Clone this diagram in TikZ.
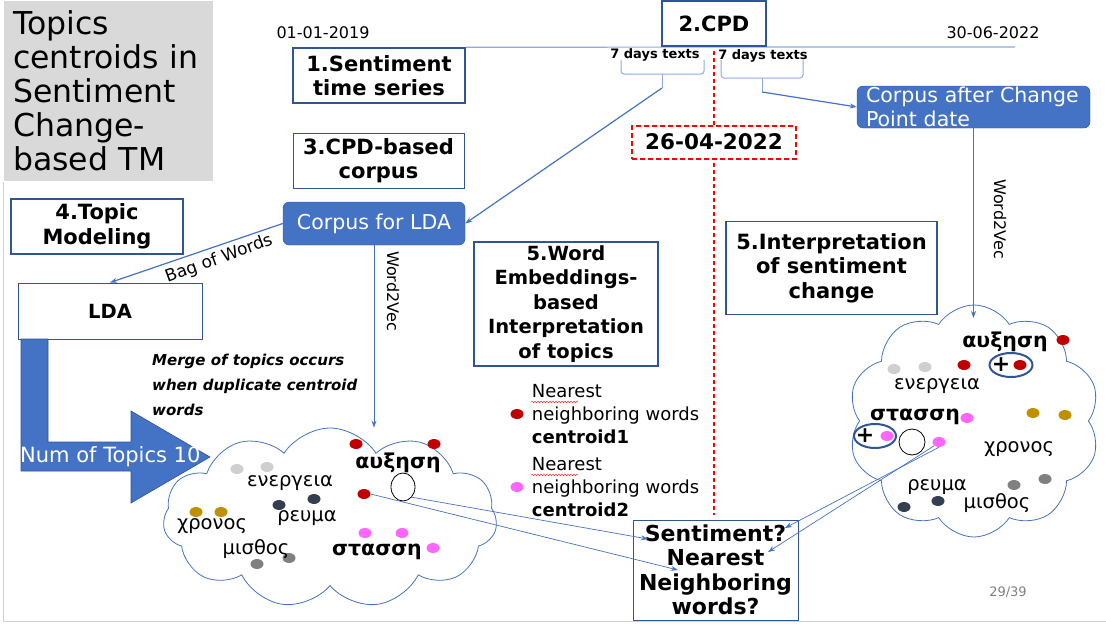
\documentclass[tikz,border=0pt]{standalone}
\usepackage{fontspec}
\setmainfont{DejaVu Sans}
\usetikzlibrary{positioning, arrows.meta, shapes.symbols, shapes.geometric, decorations.pathmorphing}

\definecolor{boxblue}{HTML}{2F5597}
\definecolor{fillblue}{HTML}{4472C4}
\definecolor{paleblue}{HTML}{8FAADC}
\definecolor{titlegray}{HTML}{D9D9D9}
\definecolor{dotred}{HTML}{C00000}
\definecolor{dotpink}{HTML}{FF66FF}
\definecolor{dotgold}{HTML}{BF9000}
\definecolor{dotnavy}{HTML}{333F50}
\definecolor{dotlight}{HTML}{D0CECE}
\definecolor{dotgray}{HTML}{808080}

\begin{document}
\begin{tikzpicture}[
    x=1pt, y=-1pt,
    stagebox/.style={draw=boxblue, line width=1.6pt, fill=white, align=center, inner sep=0pt, font=\bfseries\fontsize{21}{24.5}\selectfont},
    thinbox/.style={stagebox, line width=0.9pt},
    bluebox/.style={draw=boxblue, fill=fillblue, rounded corners=6pt, text=white, inner sep=0pt, font=\fontsize{20.5}{24}\selectfont},
    link/.style={draw=fillblue, line width=1.2pt, -{Stealth[length=7pt, width=5pt]}},
    thinlink/.style={link, line width=0.7pt},
    bracket/.style={draw=paleblue, line width=1pt, rounded corners=3pt},
    bubble/.style={cloud, draw=fillblue, line width=0.8pt, cloud ignores aspect, cloud puff arc=115, inner sep=0pt},
    word/.style={inner sep=0pt, font=\fontsize{19.5}{20}\selectfont},
    bword/.style={inner sep=0pt, font=\bfseries\fontsize{20.5}{20}\selectfont},
    dot/.style={ellipse, inner sep=0pt, minimum width=13pt, minimum height=10pt},
    lab/.style={inner sep=0pt, font=\fontsize{16}{18}\selectfont},
    days/.style={inner sep=0pt, font=\bfseries\fontsize{13}{14}\selectfont},
    legend/.style={inner sep=0pt, align=left, font=\fontsize{18}{23}\selectfont},
    spell/.style={draw=red!80, line width=0.5pt, decorate, decoration={snake, amplitude=0.8pt, segment length=3pt}}
]
\useasboundingbox (0,0) rectangle (1106,624);

% --- slide frame ---
\draw[gray!35, line width=1pt] (3,182) -- (3,621) -- (1106,621);

% --- title ---
\node[fill=titlegray, anchor=north west, minimum width=209pt, minimum height=180pt, inner xsep=9pt, inner ysep=0pt,
      text width=191pt, align=left, font=\fontsize{31.5}{34}\selectfont] (title) at (4,1)
      {Topics\\centroids in\\Sentiment\\Change-\\based TM};

% --- time line ---
\node[lab] (start) at (323,33) {01-01-2019};
\node[lab] (stop)  at (993,33) {30-06-2022};
\coordinate (tlEnd) at (1015,47);

\node[stagebox, minimum width=172pt, minimum height=55pt] (sts) at (379,75.5) {1.Sentiment\\time series};
\draw[paleblue, line width=1.2pt] (sts.north east) -- (tlEnd);
\node[stagebox, minimum width=104pt, minimum height=45pt] (cpd) at (714,23.5) {2.CPD};
\node[thinbox, minimum width=171pt, minimum height=55pt] (cpdcorpus) at (378.5,160.5) {3.CPD-based\\corpus};

% 7 days windows round the change point
\node[days] (daysL) at (655,55) {7 days texts};
\node[days] (daysR) at (763,56) {7 days texts};
\draw[bracket] (621,60) -- (621,74) -- (704,74) -- (704,60);
\draw[bracket] (662,74) -- (662,88);
\draw[bracket] (721,60) -- (721,78) -- (803,78) -- (803,60);
\draw[bracket] (762,78) -- (762,92);
\coordinate (tipL) at (662,88);
\coordinate (tipR) at (762,92);

% --- change point ---
\node[thinbox, minimum width=165pt, minimum height=100pt, font=\bfseries\fontsize{22}{24.5}\selectfont] (sent) at (715.5,570)
      {Sentiment?\\Nearest\\Neighboring\\words?};
\draw[red, line width=1.5pt, dash pattern=on 4pt off 3pt, shorten <=4pt, shorten >=5pt] (cpd.south) -- (cpd.south |- sent.north);
\node[draw=red, line width=2pt, dash pattern=on 5pt off 3pt, fill=white, minimum width=164pt, minimum height=33pt, inner sep=0pt,
      font=\bfseries\fontsize{21.5}{24}\selectfont] (cpdate) at (714,142) {26-04-2022};

% --- corpora ---
\node[bluebox, minimum width=182pt, minimum height=43pt] (ldacorpus) at (374,223.5) {Corpus for LDA};
\node[bluebox, minimum width=233pt, minimum height=42pt, text width=215pt, align=left] (cpcorpus) at (973.5,107)
      {Corpus after Change\\Point date};
\draw[link] (tipL) -- (ldacorpus.east);
\draw[link] (tipR) -- (cpcorpus.west);

% --- topic modelling ---
\node[stagebox, minimum width=172pt, minimum height=55pt] (tm) at (97,226.5) {4.Topic\\Modeling};
\node[thinbox, minimum width=184pt, minimum height=56pt, font=\bfseries\fontsize{19.5}{24}\selectfont] (lda) at (110,311) {LDA};
\draw[link] (ldacorpus.west) -- (lda.north);
\node[lab, rotate=20, font=\fontsize{17}{18}\selectfont] (bow) at (219,259) {Bag of Words};

\node[stagebox, minimum width=184pt, minimum height=124pt, font=\bfseries\fontsize{19.5}{24.5}\selectfont] (wemb) at (566,304)
      {5.Word\\Embeddings-\\based\\Interpretation\\of topics};
\node[stagebox, minimum width=211pt, minimum height=93pt] (interp) at (831.5,268)
      {5.Interpretation\\of sentiment\\change};

\node[inner sep=0pt, align=left, font=\bfseries\itshape\fontsize{15}{25}\selectfont, anchor=west] (merge) at (152,385)
      {Merge of topics occurs\\when duplicate centroid\\words};

% --- clouds of words ---
\node[bubble, cloud puffs=11, minimum width=334pt, minimum height=180pt] (cloudL) at (330,518) {};
\node[bubble, cloud puffs=10, minimum width=252pt, minimum height=232pt] (cloudR) at (974,421) {};

\draw[thinlink] (ldacorpus.south) -- (ldacorpus.south |- cloudL.north);
\node[lab, rotate=-90] (w2vL) at (393,291) {Word2Vec};
\draw[thinlink] (cpcorpus.south) -- (973.5,318);
\node[lab, rotate=-90] (w2vR) at (1000,219) {Word2Vec};

% number of topics
\draw[draw=boxblue, fill=fillblue, line width=0.6pt] (21,339) -- (48,339) -- (48,442) -- (131,442) -- (131,411) -- (210,457)
      -- (131,503) -- (131,471) -- (21,471) -- cycle;
\node[inner sep=0pt, anchor=west, text=white, font=\fontsize{21}{22}\selectfont] (ntopics) at (20,457) {Num of Topics 10};

% left cloud
\foreach \x/\y in {356/444, 434/444} \node[dot, fill=dotred] at (\x,\y) {};
\node[dot, fill=dotred] (redL) at (364,494) {};
\foreach \x/\y in {237/469, 267/467} \node[dot, fill=dotlight] at (\x,\y) {};
\foreach \x/\y in {279/505, 314/499} \node[dot, fill=dotnavy] at (\x,\y) {};
\foreach \x/\y in {196/512, 221/512} \node[dot, fill=dotgold] at (\x,\y) {};
\foreach \x/\y in {257/564, 289/558} \node[dot, fill=dotgray] at (\x,\y) {};
\foreach \x/\y in {365/533, 402/533, 433/548} \node[dot, fill=dotpink] at (\x,\y) {};
\node[bword] at (398,463) {αυξηση};
\node[word] at (290,483) {ενεργεια};
\node[word] at (307,518) {ρευμα};
\node[word] at (212,526) {χρονος};
\node[word] at (256,549) {μισθος};
\node[bword] at (377,552) {στασση};
\node[ellipse, draw, line width=0.8pt, minimum width=24pt, minimum height=28pt, inner sep=0pt] (circL) at (403,487) {};

% right cloud
\foreach \x/\y in {1063/340, 964/365} \node[dot, fill=dotred] at (\x,\y) {};
\foreach \x/\y in {894/369, 925/367} \node[dot, fill=dotlight] at (\x,\y) {};
\foreach \x/\y in {1033/413, 1065/415} \node[dot, fill=dotgold] at (\x,\y) {};
\foreach \x/\y in {1014/485, 1045/479} \node[dot, fill=dotgray] at (\x,\y) {};
\foreach \x/\y in {904/507, 938/501} \node[dot, fill=dotnavy] at (\x,\y) {};
\node[dot, fill=dotpink] at (967,418) {};
\node[dot, fill=dotpink] (pinkR) at (939,442) {};
\node[bword] at (1005,342) {αυξηση};
\node[word] at (937,386) {ενεργεια};
\node[bword] at (915,417) {στασση};
\node[word] at (1019,449) {χρονος};
\node[word] at (937,487) {ρευμα};
\node[word] at (997,503) {μισθος};
\node[ellipse, draw=boxblue, line width=2pt, minimum width=43pt, minimum height=24pt, inner sep=0pt] (plusA) at (1011,365) {};
\node[inner sep=0pt, font=\bfseries\fontsize{22}{22}\selectfont] at (1001,365) {+};
\node[dot, fill=dotred] at (1020,365) {};
\node[ellipse, draw=boxblue, line width=2pt, minimum width=42pt, minimum height=24pt, inner sep=0pt] (plusB) at (875,436) {};
\node[inner sep=0pt, font=\bfseries\fontsize{22}{22}\selectfont] at (865,436) {+};
\node[dot, fill=dotpink] at (887,436) {};
\node[circle, draw, line width=0.8pt, minimum size=26pt, inner sep=0pt] (circR) at (912,442) {};

% --- legend ---
\node[dot, fill=dotred] (keyA) at (517,414) {};
\node[legend, right=8pt of keyA] (keyAtext) {Nearest\\neighboring words\\\textbf{centroid1}};
\node[dot, fill=dotpink] (keyB) at (517,487) {};
\node[legend, right=8pt of keyB] (keyBtext) {Nearest\\neighboring words\\\textbf{centroid2}};
\draw[spell] (531,402) -- (578,402);
\draw[spell] (531,475) -- (578,475);

% --- links to the question box ---
\coordinate (endA) at (648,539);
\coordinate (endB) at (678,570);
\coordinate (endC) at (785,528);
\coordinate (endD) at (768,552);
\draw[thinlink] (circL.south east) -- (endA);
\draw[thinlink] (redL.east) -- (endB);
\draw[thinlink] (pinkR.south) -- (endC);
\draw[thinlink] (pinkR.south west) -- (endD);

\node[inner sep=0pt, text=gray, font=\fontsize{13}{15}\selectfont] (page) at (1008,592) {29/39};

\end{tikzpicture}
\end{document}
